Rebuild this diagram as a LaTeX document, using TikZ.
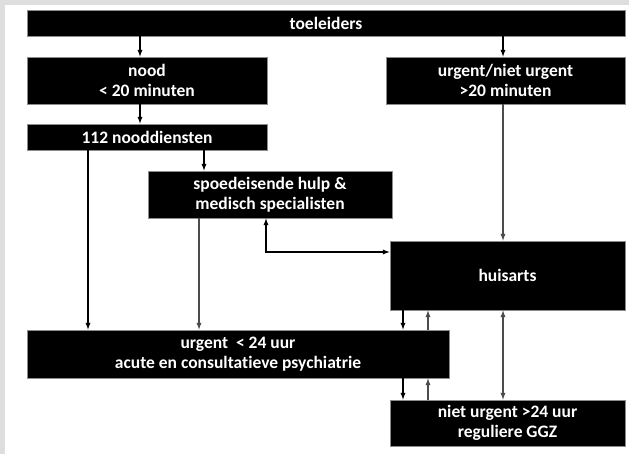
\documentclass[tikz,border=0pt]{standalone}
\usepackage{fontspec}
\setmainfont{Carlito}[Ligatures=NoCommon]
\usepackage{tikz}
\usetikzlibrary{arrows,shapes}
\pgfdeclarelayer{background}
\pgfsetlayers{background,main}
\tikzstyle{box}=[rectangle, fill=black, draw=black!45
,line width=0.8pt
,text=white
,align=center
,inner sep=0pt
,font=\fontsize{17.5}{20}\selectfont\bfseries
]
\tikzstyle{edge} = [draw,line width=1.3pt,-latex]
\tikzstyle{grey edge} = [edge, draw=black!70]
\tikzstyle{both edge} = [draw,line width=1.3pt,latex-latex]

\begin{document}
\begin{tikzpicture}[x=1pt,y=-1pt]
    % Frame of the page
    \begin{pgfonlayer}{background}
        \fill[black!13] (0,0) rectangle (629,454);
        \fill[white] (5,5) rectangle (629,454);
    \end{pgfonlayer}
    \useasboundingbox (0,0) rectangle (629,454);

    % First we draw the boxes
    \node[box, minimum width=598, minimum height=26] (toeleiders) at (326,23) {toeleiders};
    \node[box, minimum width=240, minimum height=47] (nood) at (147,80.5) {nood\\< 20 minuten};
    \node[box, minimum width=239, minimum height=47] (urgnu) at (505.5,80.5) {urgent/niet urgent\\>20 minuten};
    \node[box, minimum width=240, minimum height=26] (nooddienst) at (147,137) {112 nooddiensten};
    \node[box, minimum width=244, minimum height=47] (spoed) at (270,194.5) {spoedeisende hulp \&\\medisch specialisten};
    \node[box, minimum width=235, minimum height=69] (huisarts) at (507.5,275.5) {huisarts};
    \node[box, minimum width=422, minimum height=48] (urgent) at (238,354) {urgent \ < 24 uur\\acute en consultatieve psychiatrie};
    \node[box, minimum width=235, minimum height=46] (nieturgent) at (507.5,423) {niet urgent >24 uur\\reguliere GGZ};

    % Points where the vertical lines run
    \coordinate (c1) at ([xshift=-7pt]nood.north);
    \coordinate (c2) at ([xshift=-59pt]nooddienst.south);
    \coordinate (c3) at ([xshift=57pt]nooddienst.south);
    \coordinate (c4) at ([xshift=-71pt]spoed.south);
    \coordinate (c5) at ([xshift=-104.5pt]huisarts.south);
    \coordinate (c6) at ([xshift=-79.5pt]huisarts.south);
    \coordinate (c7) at ([xshift=-4.5pt]huisarts.south);

    % Connect boxes with arrows
    \path[edge] (c1 |- toeleiders.south) -- (c1);
    \path[edge] (c7 |- toeleiders.south) -- (c7 |- urgnu.north);
    \path[edge] (c1 |- nood.south) -- (c1 |- nooddienst.north);
    \path[edge] (c2) -- (c2 |- urgent.north);
    \path[edge] (c3) -- (c3 |- spoed.north);
    \path[grey edge] (c4) -- (c4 |- urgent.north);
    \path[grey edge] (c7 |- urgnu.south) -- (c7 |- huisarts.north);
    \path[both edge] ([xshift=-4pt]spoed.south) |- ([yshift=23.5pt]huisarts.west);

    \foreach \source/ \dest in {huisarts.south/urgent.north, urgent.south/nieturgent.north}
        \path[edge] (c5 |- \source) -- (c5 |- \dest);
    \foreach \source/ \dest in {urgent.north/huisarts.south, nieturgent.north/urgent.south}
        \path[grey edge] (c6 |- \source) -- (c6 |- \dest);

    \path[both edge, draw=black!70] (c7) -- (c7 |- nieturgent.north);

\end{tikzpicture}
\end{document}
